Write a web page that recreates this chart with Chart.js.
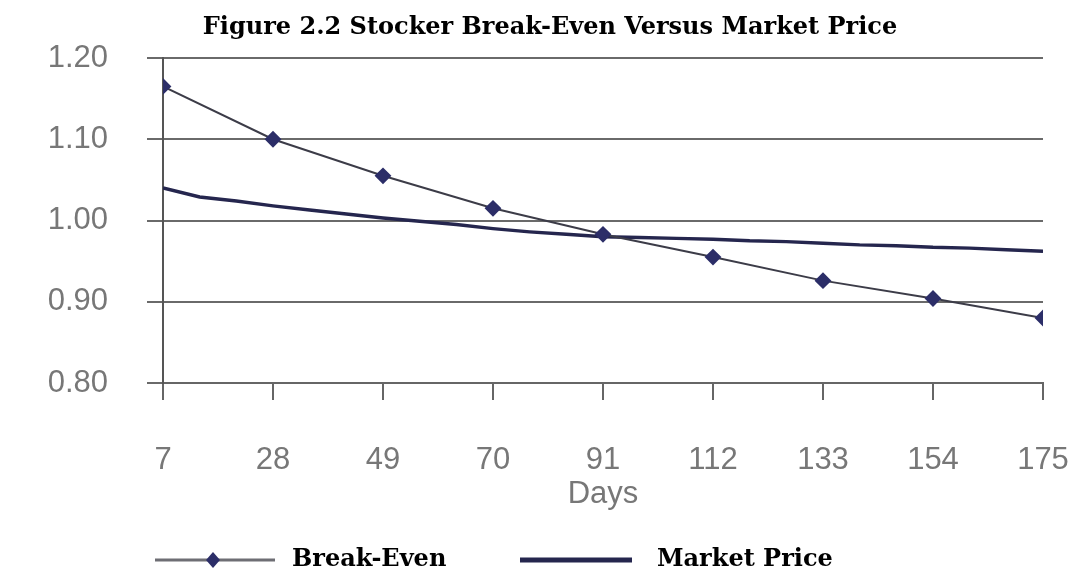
<!DOCTYPE html>
<html>
<head>
<meta charset="utf-8">
<script src="https://cdn.jsdelivr.net/npm/chart.js@4.4.0/dist/chart.umd.min.js"></script>
<style>
  html, body { margin: 0; padding: 0; background: #fff; }
</style>
</head>
<body>
<canvas id="chart1" width="1076" height="573"></canvas>
<script>
// valores
var tickDays = [7, 28, 49, 70, 91, 112, 133, 154, 175];
var yTicks = [0.80, 0.90, 1.00, 1.10, 1.20];

var breakEvenDays = [7, 28, 49, 70, 91, 112, 133, 154, 175];
var breakEven = [1.165, 1.100, 1.055, 1.015, 0.983, 0.955, 0.926, 0.904, 0.880];

var marketDays = [7, 14, 21, 28, 35, 42, 49, 56, 63, 70, 77, 84, 91,
                  98, 105, 112, 119, 126, 133, 140, 147, 154, 161, 168, 175];
var marketPrice = [1.040, 1.029, 1.024, 1.018, 1.013, 1.008, 1.003, 0.999, 0.995,
                   0.990, 0.986, 0.983, 0.980, 0.979, 0.978, 0.977, 0.975, 0.974,
                   0.972, 0.970, 0.969, 0.967, 0.966, 0.964, 0.962];

var titleText = 'Figure 2.2 Stocker Break-Even Versus Market Price';
var axisFont = { family: '"Liberation Sans", Arial, sans-serif', size: 31, lineHeight: 1 };
var serifBold = '"DejaVu Serif", "Liberation Serif", serif';

function pairs(xs, ys) {
  return xs.map(function (x, i) { return { x: x, y: ys[i] }; });
}

// título y leyenda dibujados a mano (línea con rombo)
var textPlugin = {
  id: 'textos',
  afterDraw: function (chart) {
    var c = chart.ctx;
    c.save();
    c.fillStyle = '#000';
    c.textBaseline = 'middle';
    c.textAlign = 'center';
    c.font = 'bold 24px ' + serifBold;
    c.fillText(titleText, 550, 28);

    var y = 560;
    c.lineCap = 'butt';
    c.strokeStyle = '#6e6e74';
    c.lineWidth = 3;
    c.beginPath(); c.moveTo(155, y); c.lineTo(275, y); c.stroke();
    c.fillStyle = '#2c2e68';
    c.beginPath();
    c.moveTo(213, y - 8); c.lineTo(220, y); c.lineTo(213, y + 8); c.lineTo(206, y);
    c.closePath(); c.fill();
    c.strokeStyle = '#25264e';
    c.lineWidth = 5;
    c.beginPath(); c.moveTo(520, y); c.lineTo(632, y); c.stroke();
    c.fillStyle = '#000';
    c.font = 'bold 24px ' + serifBold;
    c.textAlign = 'left';
    c.fillText('Break-Even', 292, y);
    c.fillText('Market Price', 657, y);
    c.restore();
  }
};

var ctx1 = document.getElementById('chart1').getContext('2d');
var chart1 = new Chart(ctx1, {
  type: 'line',
  data: {
    datasets: [{
      label: 'Break-Even',
      data: pairs(breakEvenDays, breakEven),
      borderColor: '#3c3c48',
      borderWidth: 2,
      pointStyle: 'rectRot',
      pointRadius: 7,
      pointBackgroundColor: '#2c2e68',
      pointBorderColor: '#2c2e68',
      tension: 0
    }, {
      label: 'Market Price',
      data: pairs(marketDays, marketPrice),
      borderColor: '#25264e',
      borderWidth: 3.5,
      pointRadius: 0,
      tension: 0
    }]
  },
  options: {
    responsive: false,
    animation: false,
    layout: { padding: { left: 0, right: 33, top: 58, bottom: 63 } },
    plugins: {
      legend: { display: false },
      tooltip: { enabled: false },
      title: { display: false }
    },
    scales: {
      x: {
        type: 'linear',
        min: 7,
        max: 175,
        afterBuildTicks: function (s) { s.ticks = tickDays.map(function (v) { return { value: v }; }); },
        afterFit: function (s) { s.height = 127; s.paddingLeft = 0; s.paddingRight = 0; },
        ticks: { font: axisFont, color: '#777', padding: 45, maxRotation: 0, autoSkip: false,
                 callback: function (v) { return String(v); } },
        grid: { drawOnChartArea: false, drawTicks: true, tickLength: 17, color: '#666', lineWidth: 2 },
        border: { display: true, color: '#666', width: 2 },
        title: { display: true, text: 'Days', color: '#777', font: axisFont, padding: { top: 5, bottom: 0 } }
      },
      y: {
        min: 0.8,
        max: 1.2,
        afterBuildTicks: function (s) { s.ticks = yTicks.map(function (v) { return { value: v }; }); },
        afterFit: function (s) { s.width = 163; s.paddingTop = 0; s.paddingBottom = 0; },
        ticks: { font: axisFont, color: '#777', padding: 39,
                 callback: function (v) { return Number(v).toFixed(2); } },
        grid: { color: '#6a6a6a', lineWidth: 2, tickLength: 16 },
        border: { display: true, color: '#555', width: 2 }
      }
    }
  },
  plugins: [textPlugin]
});
</script>
</body>
</html>
